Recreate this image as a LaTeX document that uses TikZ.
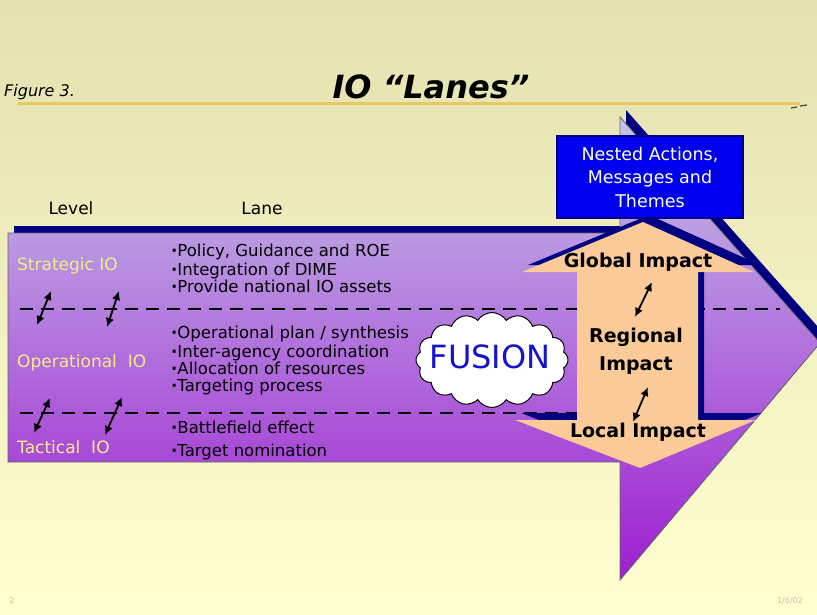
\documentclass[tikz,border=0pt]{standalone}
\usepackage{fontspec}
\setmainfont{DejaVu Sans}
\usetikzlibrary{arrows.meta,shapes.symbols}
\definecolor{bgtop}{RGB}{228,225,176}
\definecolor{bgmid}{RGB}{242,240,192}
\definecolor{bgbot}{RGB}{255,255,208}
\definecolor{navy}{RGB}{0,0,128}
\definecolor{lavtop}{RGB}{196,196,232}
\definecolor{purmid}{RGB}{168,148,222}
\definecolor{purbot}{RGB}{158,30,208}
\definecolor{peach}{RGB}{250,202,152}
\definecolor{boxblue}{RGB}{0,0,240}
\definecolor{pale}{RGB}{255,255,200}
\definecolor{lvl}{RGB}{242,236,140}
\definecolor{fusionblue}{RGB}{20,20,205}
\definecolor{gold}{RGB}{232,200,100}
\definecolor{faint}{RGB}{195,195,165}
\tikzset{
  lvl/.style={anchor=west, text=lvl, font=\fontsize{17}{18}\selectfont, inner sep=0pt},
  item/.style={anchor=base west, font=\fontsize{16.5}{18}\selectfont, inner sep=0pt},
  hdr/.style={font=\fontsize{17}{18}\selectfont, inner sep=0pt},
  impact/.style={font=\fontsize{19}{28}\selectfont\bfseries, inner sep=0pt, align=center},
  dbl/.style={{Latex[length=9pt,width=8.5pt]}-{Latex[length=9pt,width=8.5pt]}, line width=1.8pt},
  lanedash/.style={dash pattern=on 13pt off 8pt, line width=2.8pt},
  nbox/.style={fill=boxblue, draw=navy, line width=1.5pt, minimum width=186pt, minimum height=82pt,
    align=center, text=pale, font=\fontsize{17.5}{23.5}\selectfont, inner sep=0pt},
}
\newcommand{\bul}{{\bfseries·}}
\begin{document}
\begin{tikzpicture}[x=1pt,y=-1pt]
\useasboundingbox (0,0) rectangle (817,615);
% background
\fill[top color=bgtop, middle color=bgmid, bottom color=bgbot] (0,0) rectangle (817,615);
\draw[gold, line width=3pt] (18,104) -- (800,104);
\draw[black!70, line width=1.3pt] (791,108) -- (797,107) (800,106) -- (807,105);
% title
\node[font=\fontsize{32}{34}\selectfont\bfseries\itshape, inner sep=0pt] (title) at (431,87) {IO “Lanes”};
\node[anchor=west, font=\fontsize{16}{17}\selectfont\itshape, inner sep=0pt] (fig) at (4,92) {Figure 3.};
% big arrow shadow and arrow
\fill[navy, shift={(6,-7)}] (8,233) -- (620,233) -- (620,117) -- (820,343) -- (620,580) -- (620,462) -- (8,462) -- cycle;
\path[draw=black!60, line width=0.8pt, top color=lavtop, middle color=purmid, bottom color=purbot]
  (8,233) -- (620,233) -- (620,117) -- (820,343) -- (620,580) -- (620,462) -- (8,462) -- cycle;
% lane dividers
\draw[lanedash] (20,309) -- (780,309);
\draw[lanedash] (20,413) -- (600,413);
% peach double arrow with navy shadow
\fill[navy, shift={(6,-7)}] (643,222) -- (754,272) -- (698,272) -- (698,420) -- (756,420) -- (640,468) -- (515,420) -- (577,420) -- (577,272) -- (522,272) -- cycle;
\fill[peach] (643,222) -- (754,272) -- (698,272) -- (698,420) -- (756,420) -- (640,468) -- (515,420) -- (577,420) -- (577,272) -- (522,272) -- cycle;
% nested box
\node[nbox] (nested) at (650,177) {Nested Actions,\\Messages and\\Themes};
% cloud
\node[cloud, cloud puffs=16, cloud puff arc=115, cloud ignores aspect, minimum width=152pt, minimum height=95pt,
  draw=black, fill=white, line width=1pt, inner sep=0pt] (cloud) at (492,360) {};
\node[font=\fontsize{32}{34}\selectfont, text=fusionblue, inner sep=0pt] (fusion) at (490,357) {FUSION};
% headers
\node[hdr] (level) at (71,208) {Level};
\node[hdr] (lane) at (262,208) {Lane};
% level labels
\node[lvl] (strat) at (17,266) {Strategic IO};
\node[lvl] (oper) at (17,363) {Operational~~IO};
\node[lvl] (tact) at (17,447) {Tactical~~IO};
% lane items
\node[item] (s1) at (171,256) {\bul Policy, Guidance and ROE};
\node[item] (s2) at (171,275) {\bul Integration of DIME};
\node[item] (s3) at (171,292) {\bul Provide national IO assets};
\node[item] (o1) at (171,338) {\bul Operational plan / synthesis};
\node[item] (o2) at (171,357) {\bul Inter-agency coordination};
\node[item] (o3) at (171,374) {\bul Allocation of resources};
\node[item] (o4) at (171,391) {\bul Targeting process};
\node[item] (t1) at (171,433) {\bul Battlefield effect};
\node[item] (t2) at (171,456) {\bul Target nomination};
% impacts
\node[impact] (global) at (638,262) {Global Impact};
\node[impact] (regional) at (636,351) {Regional\\Impact};
\node[impact] (local) at (638,432) {Local Impact};
% small double arrows
\coordinate (a1s) at (37,325); \coordinate (a1e) at (51,291);
\coordinate (a2s) at (107,327); \coordinate (a2e) at (119,291);
\coordinate (a3s) at (34,433); \coordinate (a3e) at (50,398);
\coordinate (a4s) at (105,435); \coordinate (a4e) at (122,397);
\coordinate (p1s) at (635,317); \coordinate (p1e) at (652,282);
\coordinate (p2s) at (633,422); \coordinate (p2e) at (648,387);
\draw[dbl] (a1s) -- (a1e);
\draw[dbl] (a2s) -- (a2e);
\draw[dbl] (a3s) -- (a3e);
\draw[dbl] (a4s) -- (a4e);
\draw[dbl] (p1s) -- (p1e);
\draw[dbl] (p2s) -- (p2e);
% footer
\node[text=faint, font=\fontsize{8}{9}\selectfont, inner sep=0pt] (pg) at (12,601) {2};
\node[text=faint, font=\fontsize{8}{9}\selectfont, inner sep=0pt] (date) at (790,601) {1/6/02};
\end{tikzpicture}
\end{document}
